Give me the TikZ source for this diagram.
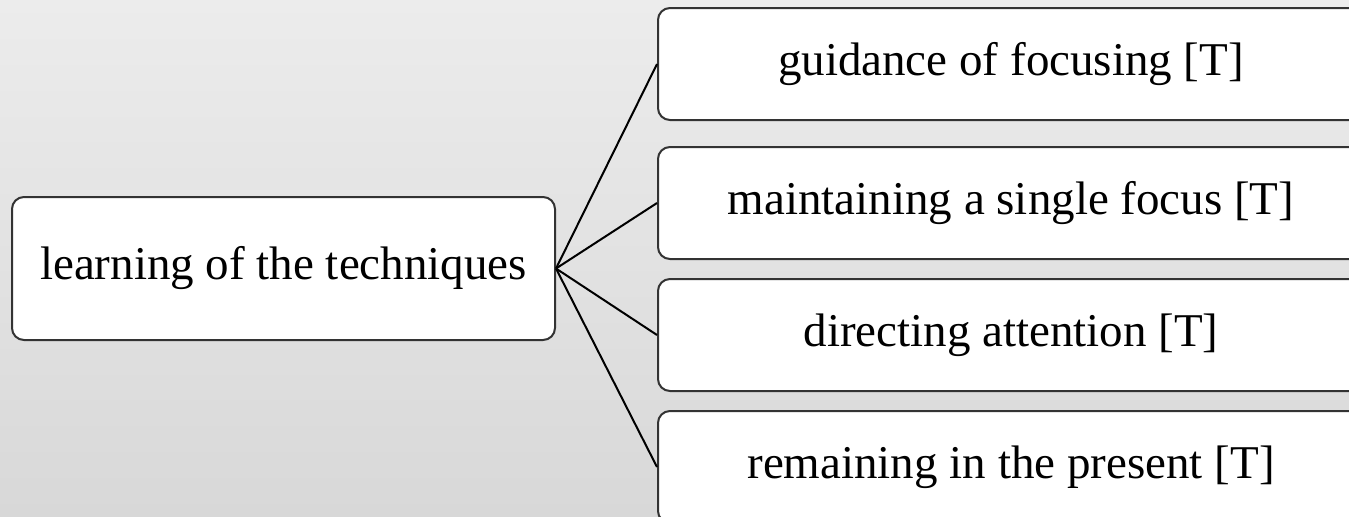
\documentclass[tikz,border=0pt]{standalone}
\usepackage{fontspec}
\setmainfont{Liberation Serif}
\definecolor{bgtop}{HTML}{ECECEC}
\definecolor{bgbot}{HTML}{D8D8D8}
\definecolor{edge}{HTML}{333333}
\begin{document}
\begin{tikzpicture}[x=0.5pt,y=-0.5pt,
  box/.style={draw=edge, line width=1pt, fill=white, rounded corners=6pt,
    inner sep=0pt, font=\fontsize{23.5}{28}\selectfont},
  leftbox/.style={box, minimum width=271.5pt, minimum height=71.5pt},
  rightbox/.style={box, minimum width=353pt, minimum height=56pt},
  link/.style={draw=black, line width=1pt}]
\useasboundingbox (0,0) rectangle (1349,516);
\shade[top color=bgtop, bottom color=bgbot] (0,0) rectangle (1349,516);
\node[leftbox] (L) at (283.5,268.5) {learning of the techniques};
\node[rightbox] (R1) at (1011,64) {guidance of focusing [T]};
\node[rightbox] (R2) at (1011,203) {maintaining a single focus [T]};
\node[rightbox] (R3) at (1011,335) {directing attention [T]};
\node[rightbox] (R4) at (1011,467) {remaining in the present [T]};
\foreach \r in {R1,R2,R3,R4}
  \draw[link] (L.east) -- (\r.west);
\end{tikzpicture}
\end{document}
